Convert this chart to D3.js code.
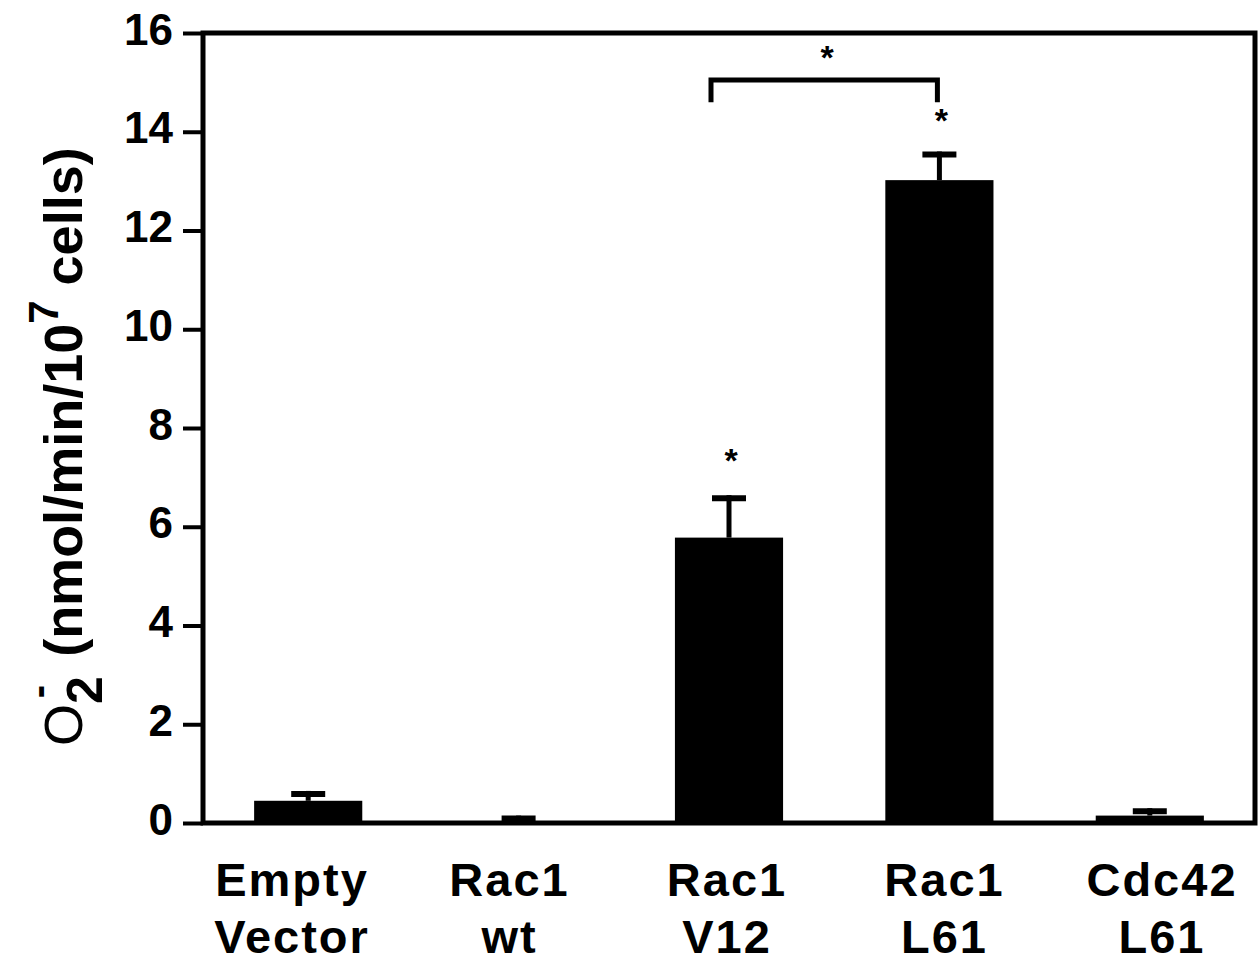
<!DOCTYPE html>
<html>
<head>
<meta charset="utf-8">
<script src="https://cdn.jsdelivr.net/npm/d3@7"></script>
<style>
  html, body { margin: 0; padding: 0; background: #fff; }
  svg { display: block; font-family: "Liberation Sans", Arial, Helvetica, sans-serif; }
</style>
</head>
<body>
<div id="chart"></div>
<script>
"use strict";

// ---------------------------------------------------------------------------
// Data
// ---------------------------------------------------------------------------

const categories = ["Empty Vector", "Rac1 wt", "Rac1 V12", "Rac1 L61", "Cdc42 L61"];
const values = [0.45, 0.03, 5.78, 13.02, 0.15];
const errors = [0.20, 0.12, 0.86, 0.58, 0.15];
const yTicks = [0, 2, 4, 6, 8, 10, 12, 14, 16];

// single-bar significance stars (category, y value of star centre)
const stars = [
  { cat: "Rac1 V12", y: 7.5 },
  { cat: "Rac1 L61", y: 14.38 },
];
// bracket between V12 and L61
const bracket = { from: "Rac1 V12", to: "Rac1 L61", y: 15.05, leg: 14.6, star: 15.65 };

// ---------------------------------------------------------------------------
// Layout
// ---------------------------------------------------------------------------

const width = 1260;
const height = 967;
const plot = { left: 203, right: 1255, top: 33, bottom: 823 };

const svg = d3.select("#chart")
  .append("svg")
  .attr("width", width)
  .attr("height", height);

const x = d3.scaleBand()
  .domain(categories)
  .range([plot.left, plot.right])
  .paddingInner(0.486)
  .paddingOuter(0.243);

// category labels sit on a slightly wider spacing than the bars
const xLabel = d3.scalePoint()
  .domain(categories)
  .range([292, 1162]);

const y = d3.scaleLinear()
  .domain([0, 16])
  .range([plot.bottom, plot.top]);

// ---------------------------------------------------------------------------
// Bars + error bars
// ---------------------------------------------------------------------------

const bw = x.bandwidth();

svg.selectAll("rect.bar")
  .data(categories)
  .join("rect")
  .attr("class", "bar")
  .attr("x", (d) => x(d))
  .attr("y", (d, i) => y(values[i]))
  .attr("width", bw)
  .attr("height", (d, i) => y(0) - y(values[i]))
  .attr("fill", "#000");

const eb = svg.append("g");
categories.forEach((c, i) => {
  const cx = x(c) + bw / 2;
  const yt = y(values[i] + errors[i]);
  eb.append("line")
    .attr("x1", cx).attr("x2", cx)
    .attr("y1", y(values[i])).attr("y2", yt)
    .attr("stroke", "#000").attr("stroke-width", 5);
  eb.append("line")
    .attr("x1", cx - 17).attr("x2", cx + 17)
    .attr("y1", yt + 3).attr("y2", yt + 3)
    .attr("stroke", "#000").attr("stroke-width", 6);
});

// ---------------------------------------------------------------------------
// Frame + axis
// ---------------------------------------------------------------------------

svg.append("rect")
  .attr("x", plot.left).attr("y", plot.top)
  .attr("width", plot.right - plot.left).attr("height", plot.bottom - plot.top)
  .attr("fill", "none")
  .attr("stroke", "#000")
  .attr("stroke-width", 5);

const yAxis = svg.append("g")
  .attr("transform", `translate(${plot.left},0)`)
  .call(d3.axisLeft(y).tickValues(yTicks).tickSize(20).tickPadding(10).tickFormat(d3.format("d")));

yAxis.select(".domain").remove();
yAxis.selectAll(".tick line").attr("stroke", "#000").attr("stroke-width", 4);
yAxis.selectAll(".tick text")
  .attr("fill", "#000")
  .attr("font-size", 44)
  .attr("font-weight", "bold")
  .attr("dy", null)
  .attr("y", 11);

// x labels (two lines)
categories.forEach((c) => {
  const parts = c.split(" ");
  const t = svg.append("text")
    .attr("text-anchor", "middle")
    .attr("font-size", 47)
    .attr("font-weight", "bold")
    .attr("letter-spacing", 2)
    .attr("fill", "#000");
  parts.forEach((p, j) => {
    t.append("tspan")
      .attr("x", xLabel(c))
      .attr("y", 896 + j * 57)
      .text(p);
  });
});

// y title
const title = svg.append("text")
  .attr("transform", "translate(82,746) rotate(-90)")
  .attr("text-anchor", "start")
  .attr("font-size", 54)
  .attr("fill", "#000");
title.append("tspan").attr("font-weight", "normal").text("O");
title.append("tspan").attr("font-weight", "bold").attr("font-size", 50).attr("dy", 20).text("2");
title.append("tspan").attr("font-weight", "bold").attr("font-size", 40).attr("dy", -50).attr("dx", -22).text("-");
title.append("tspan").attr("font-weight", "bold").attr("dy", 30).attr("dx", 28).text("(nmol/min/10");
title.append("tspan").attr("font-weight", "bold").attr("font-size", 42).attr("dy", -24).text("7");
title.append("tspan").attr("font-weight", "bold").attr("dy", 24).text(" cells)");

// ---------------------------------------------------------------------------
// Significance marks
// ---------------------------------------------------------------------------

function star(cx, cy) {
  svg.append("text")
    .attr("x", cx)
    .attr("y", cy + 19)
    .attr("text-anchor", "middle")
    .attr("font-size", 34)
    .attr("font-weight", "bold")
    .attr("fill", "#000")
    .text("*");
}

stars.forEach((s) => star(x(s.cat) + bw / 2 + 2, y(s.y)));

const bx1 = x(bracket.from) + bw / 2 - 18;
const bx2 = x(bracket.to) + bw / 2 - 2;
svg.append("path")
  .attr("d", `M${bx1},${y(bracket.leg)} V${y(bracket.y)} H${bx2} V${y(bracket.leg)}`)
  .attr("fill", "none")
  .attr("stroke", "#000")
  .attr("stroke-width", 5);
star((bx1 + bx2) / 2 + 3, y(bracket.star));
</script>
</body>
</html>
